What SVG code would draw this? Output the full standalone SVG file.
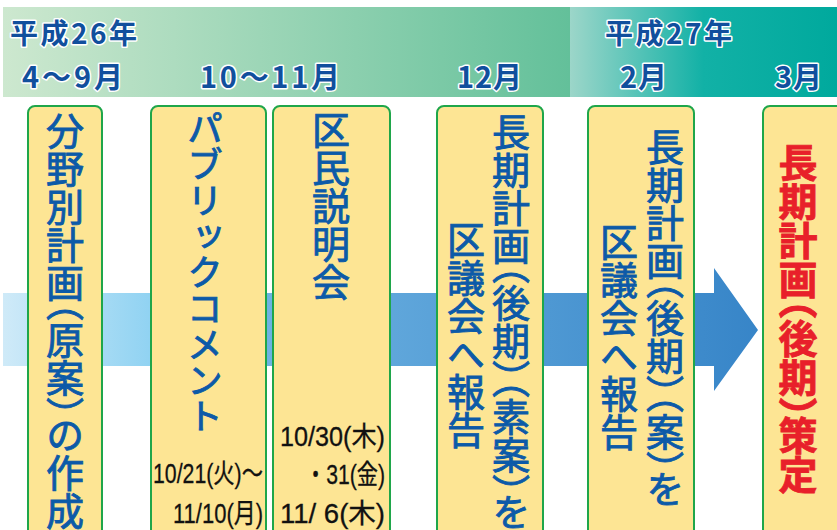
<svg xmlns="http://www.w3.org/2000/svg" width="837" height="530" viewBox="0 0 837 530">
<defs>
<linearGradient id="hdr1" x1="0" y1="0" x2="1" y2="0"><stop offset="0" stop-color="#cde8cf"/><stop offset="1" stop-color="#63c09a"/></linearGradient>
<linearGradient id="hdr2" x1="0" y1="0" x2="1" y2="0"><stop offset="0" stop-color="#9cd6c9"/><stop offset="0.5" stop-color="#12b1a6"/><stop offset="1" stop-color="#00a99d"/></linearGradient>
<linearGradient id="arr" gradientUnits="userSpaceOnUse" x1="3" y1="0" x2="758" y2="0"><stop offset="0" stop-color="#cfeaf8"/><stop offset="0.2" stop-color="#8fd2f2"/><stop offset="0.36" stop-color="#6cb1e1"/><stop offset="1" stop-color="#3785c8"/></linearGradient>
<style>
.hd{font-family:"Noto Sans CJK JP","Noto Sans",sans-serif;font-weight:700;fill:#114f9d;stroke:#ffffff;stroke-width:3;paint-order:stroke;stroke-linejoin:round}
.box rect{fill:#fde594;stroke:#1fa64a;stroke-width:2}
.vt{font-family:"Noto Sans CJK JP",sans-serif;writing-mode:vertical-rl;font-size:38px;font-weight:400;fill:#0c5aa8;stroke:#0c5aa8;stroke-width:0.9;font-feature-settings:"vhal"}
.vt.kana{font-size:36px}
.red{fill:#e8202a;stroke:#e8202a;stroke-width:0.8;font-weight:700;font-size:39px}
.dt{font-family:"Liberation Sans","Noto Sans CJK JP",sans-serif;font-size:27px;fill:#111111;stroke:#111111;stroke-width:0.3}
</style>
</defs>
<g id="header">
<rect x="3" y="7" width="567" height="90" fill="url(#hdr1)"/>
<rect x="570" y="7" width="267" height="90" fill="url(#hdr2)"/>
<text class="hd" x="10" y="44" font-size="28" textLength="127" lengthAdjust="spacing">平成26年</text>
<text class="hd" x="22" y="88" font-size="29" textLength="101" lengthAdjust="spacing">4～9月</text>
<text class="hd" x="200" y="88" font-size="29" textLength="140" lengthAdjust="spacing">10～11月</text>
<text class="hd" x="457" y="88" font-size="29" textLength="65" lengthAdjust="spacing">12月</text>
<text class="hd" x="605" y="44" font-size="28" textLength="127" lengthAdjust="spacing">平成27年</text>
<text class="hd" x="620" y="88" font-size="29" textLength="47" lengthAdjust="spacing">2月</text>
<text class="hd" x="775" y="88" font-size="29" textLength="47" lengthAdjust="spacing">3月</text>
</g>
<g id="connectors">
<path d="M3,293 H714 V268 L758,330 L714,391 V366 H3 Z" fill="url(#arr)"/>
</g>
<g id="node1" class="box">
<rect x="28" y="106" width="74" height="440" rx="7"/>
<text class="vt" x="65" y="112">分野別計画（原案）の作成</text>
</g>
<g id="node2" class="box">
<rect x="151" y="106" width="115" height="440" rx="7"/>
<text class="vt kana" x="205" y="110">パブリックコメント</text>
<text class="dt" x="153" y="483" textLength="110" lengthAdjust="spacingAndGlyphs">10/21(火)～</text>
<text class="dt" x="173" y="523" textLength="90" lengthAdjust="spacingAndGlyphs">11/10(月)</text>
</g>
<g id="node3" class="box">
<rect x="273" y="106" width="117" height="440" rx="7"/>
<text class="vt" x="331" y="111">区民説明会</text>
<text class="dt" x="280" y="446" textLength="105" lengthAdjust="spacingAndGlyphs">10/30(木)</text>
<text class="dt" x="305" y="484" textLength="80" lengthAdjust="spacingAndGlyphs">・31(金)</text>
<text class="dt" x="280" y="523" textLength="105" lengthAdjust="spacingAndGlyphs">11/ 6(木)</text>
</g>
<g id="node4" class="box">
<rect x="437" y="106" width="106" height="440" rx="7"/>
<text class="vt" x="511" y="113">長期計画（後期）（素案）を</text>
<text class="vt" x="466" y="221">区議会へ報告</text>
</g>
<g id="node5" class="box">
<rect x="588" y="106" width="106" height="440" rx="7"/>
<text class="vt" x="665" y="128">長期計画（後期）（案）を</text>
<text class="vt" x="619" y="223">区議会へ報告</text>
</g>
<g id="node6" class="box">
<rect x="763" y="106" width="90" height="440" rx="7"/>
<text class="vt red" x="798" y="143">長期計画（後期）策定</text>
</g>
</svg>
